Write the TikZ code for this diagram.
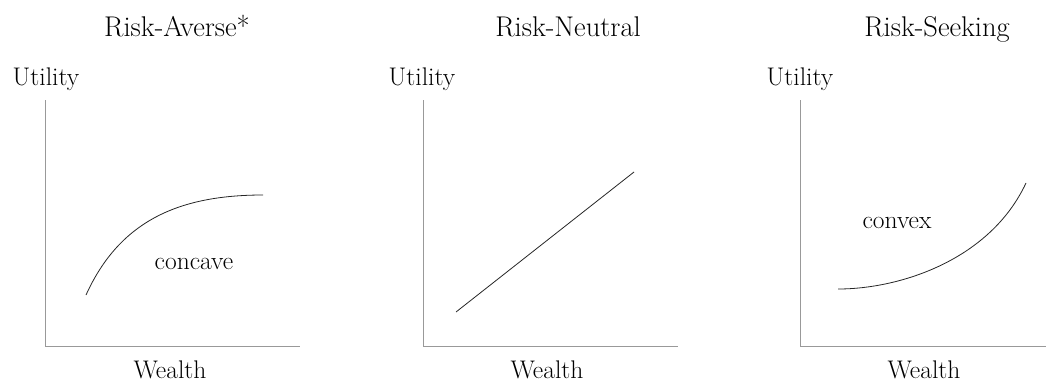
\documentclass[tikz,border=0pt]{standalone}
\usepackage{fontspec}
\begin{document}
\begin{tikzpicture}[x=1pt,y=-1pt,
  title/.style={anchor=base,inner sep=0pt,font=\fontsize{28.5}{32}\selectfont},
  lab/.style={anchor=base,inner sep=0pt,font=\fontsize{25.5}{29}\selectfont},
  axis/.style={draw=black!40,line width=1pt},
  curve/.style={draw=black!85,line width=0.8pt}]
\useasboundingbox (0,0) rectangle (1046,383);
% Panel 1
\node[title] (t1) at (177,36) {Risk-Averse*};
\node[lab] (u1) at (46,85) {Utility};
\node[lab] (w1) at (170,378) {Wealth};
\coordinate (o1) at (45,346);
\coordinate (y1) at (45,100);
\coordinate (x1) at (300,346);
\draw[axis] (y1) -- (o1) -- (x1);
\coordinate (a1) at (86,295);
\coordinate (b1) at (263,195);
\draw[curve] (a1) .. controls (120,220) and (180,195) .. (b1);
\node[lab] (c1) at (194,269) {concave};
% Panel 2
\node[title] (t2) at (568,36) {Risk-Neutral};
\node[lab] (u2) at (422,85) {Utility};
\node[lab] (w2) at (547,378) {Wealth};
\coordinate (o2) at (423,346);
\coordinate (y2) at (423,100);
\coordinate (x2) at (678,346);
\draw[axis] (y2) -- (o2) -- (x2);
\coordinate (a2) at (456,312);
\coordinate (b2) at (634,172);
\draw[curve] (a2) -- (b2);
% Panel 3
\node[title] (t3) at (937,36) {Risk-Seeking};
\node[lab] (u3) at (800,85) {Utility};
\node[lab] (w3) at (924,378) {Wealth};
\coordinate (o3) at (800,346);
\coordinate (y3) at (800,100);
\coordinate (x3) at (1046,346);
\draw[axis] (y3) -- (o3) -- (x3);
\coordinate (a3) at (838,289);
\coordinate (b3) at (1026,183);
\draw[curve] (a3) .. controls (900,289) and (990,260) .. (b3);
\node[lab] (c3) at (897,228) {convex};
\end{tikzpicture}
\end{document}
